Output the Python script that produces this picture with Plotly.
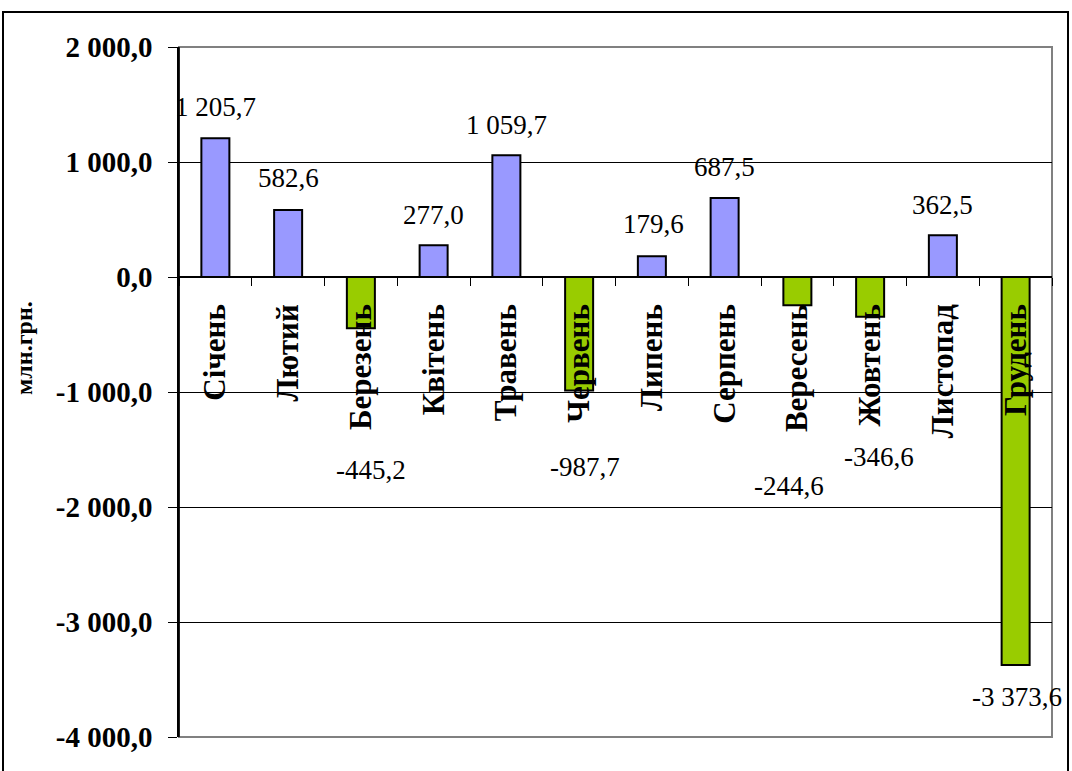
import plotly.graph_objects as go

months = ["Січень", "Лютий", "Березень", "Квітень", "Травень", "Червень",
          "Липень", "Серпень", "Вересень", "Жовтень", "Листопад", "Грудень"]
values = [1205.7, 582.6, -445.2, 277.0, 1059.7, -987.7,
          179.6, 687.5, -244.6, -346.6, 362.5, -3373.6]
y_ticks = [2000, 1000, 0, -1000, -2000, -3000, -4000]
y_title = "млн.грн."

# label placement offsets (pixels) - style, not data
label_dy = [31, 32, -142, 30, 30, -76, 32, 31, -181, -140, 30, -32]
label_dx = [0, 0, 10, 0, 0, 6, 2, 0, -8, 9, 0, 1]

POS = "#9999FF"
NEG = "#99CC00"
SERIF = "Liberation Serif"


def fmt(v):
    s = f"{abs(v):,.1f}".replace(",", " ").replace(".", ",")
    return ("-" if v < 0 else "") + s


W, H = 1072, 771
L, R, T, B = 179, 1052, 47, 737
ml, mr, mt, mb = L, W - R, T, H - B
pw, ph = R - L, B - T

ymin, ymax = -4000, 2000

fig = go.Figure()
fig.add_trace(go.Bar(
    x=months, y=values,
    marker=dict(color=[POS if v >= 0 else NEG for v in values],
                line=dict(color="black", width=2)),
    width=0.385,
    hoverinfo="x+y",
))

for m, v, dy, dx in zip(months, values, label_dy, label_dx):
    fig.add_annotation(x=m, y=v, text=fmt(v), showarrow=False,
                       yshift=dy, xshift=dx, xanchor="center", yanchor="middle",
                       font=dict(family=SERIF, size=27, color="black"))

zero_frac = (0 - ymin) / (ymax - ymin)

fig.update_layout(
    width=W, height=H,
    margin=dict(l=ml, r=mr, t=mt, b=mb, pad=0),
    paper_bgcolor="white", plot_bgcolor="white",
    showlegend=False,
    font=dict(family=SERIF, color="black"),
    xaxis=dict(
        type="category",
        anchor="free", position=zero_frac,
        showline=True, linecolor="black", linewidth=1.5,
        ticks="outside", ticklen=8, tickcolor="black", tickwidth=1,
        tickson="boundaries",
        tickangle=-90,
        ticklabelstandoff=14,
        tickfont=dict(family=SERIF, size=31, color="black", weight="bold"),
        showgrid=False, zeroline=False,
        range=[-0.5, 11.5],
    ),
    yaxis=dict(
        range=[ymin, ymax],
        tickvals=y_ticks,
        ticktext=[fmt(t) for t in y_ticks],
        showline=True, linecolor="black", linewidth=1.5,
        ticks="outside", ticklen=9, tickcolor="black",
        ticklabelstandoff=10,
        tickfont=dict(family=SERIF, size=29, color="black", weight="bold"),
        showgrid=True, gridcolor="black", gridwidth=1,
        zeroline=False,
    ),
)

# plot-area border (gray, top/right/bottom)
fig.add_shape(type="rect", xref="paper", yref="paper", x0=0, x1=1, y0=0, y1=1,
              line=dict(color="#808080", width=2), layer="below")
# left axis line redrawn black over the border
fig.add_shape(type="line", xref="paper", yref="paper", x0=0, x1=0, y0=0, y1=1,
              line=dict(color="black", width=1.5))


def px_x(x):
    return (x - L) / pw


def px_y(y):
    return (B - y) / ph


# outer chart border
fig.add_shape(type="rect", xref="paper", yref="paper",
              x0=px_x(3), x1=px_x(1068), y0=px_y(790), y1=px_y(12),
              line=dict(color="black", width=2), layer="above")

fig.add_annotation(xref="paper", yref="paper", x=px_x(24), y=px_y(348),
                   text=y_title, textangle=-90, showarrow=False,
                   xanchor="center", yanchor="middle",
                   font=dict(family=SERIF, size=24, color="black", weight="bold"))

fig.write_html("out.html",
               config={"displayModeBar": False},
               post_script="document.body.style.margin='0';"
                           "document.body.style.overflow='hidden';")
